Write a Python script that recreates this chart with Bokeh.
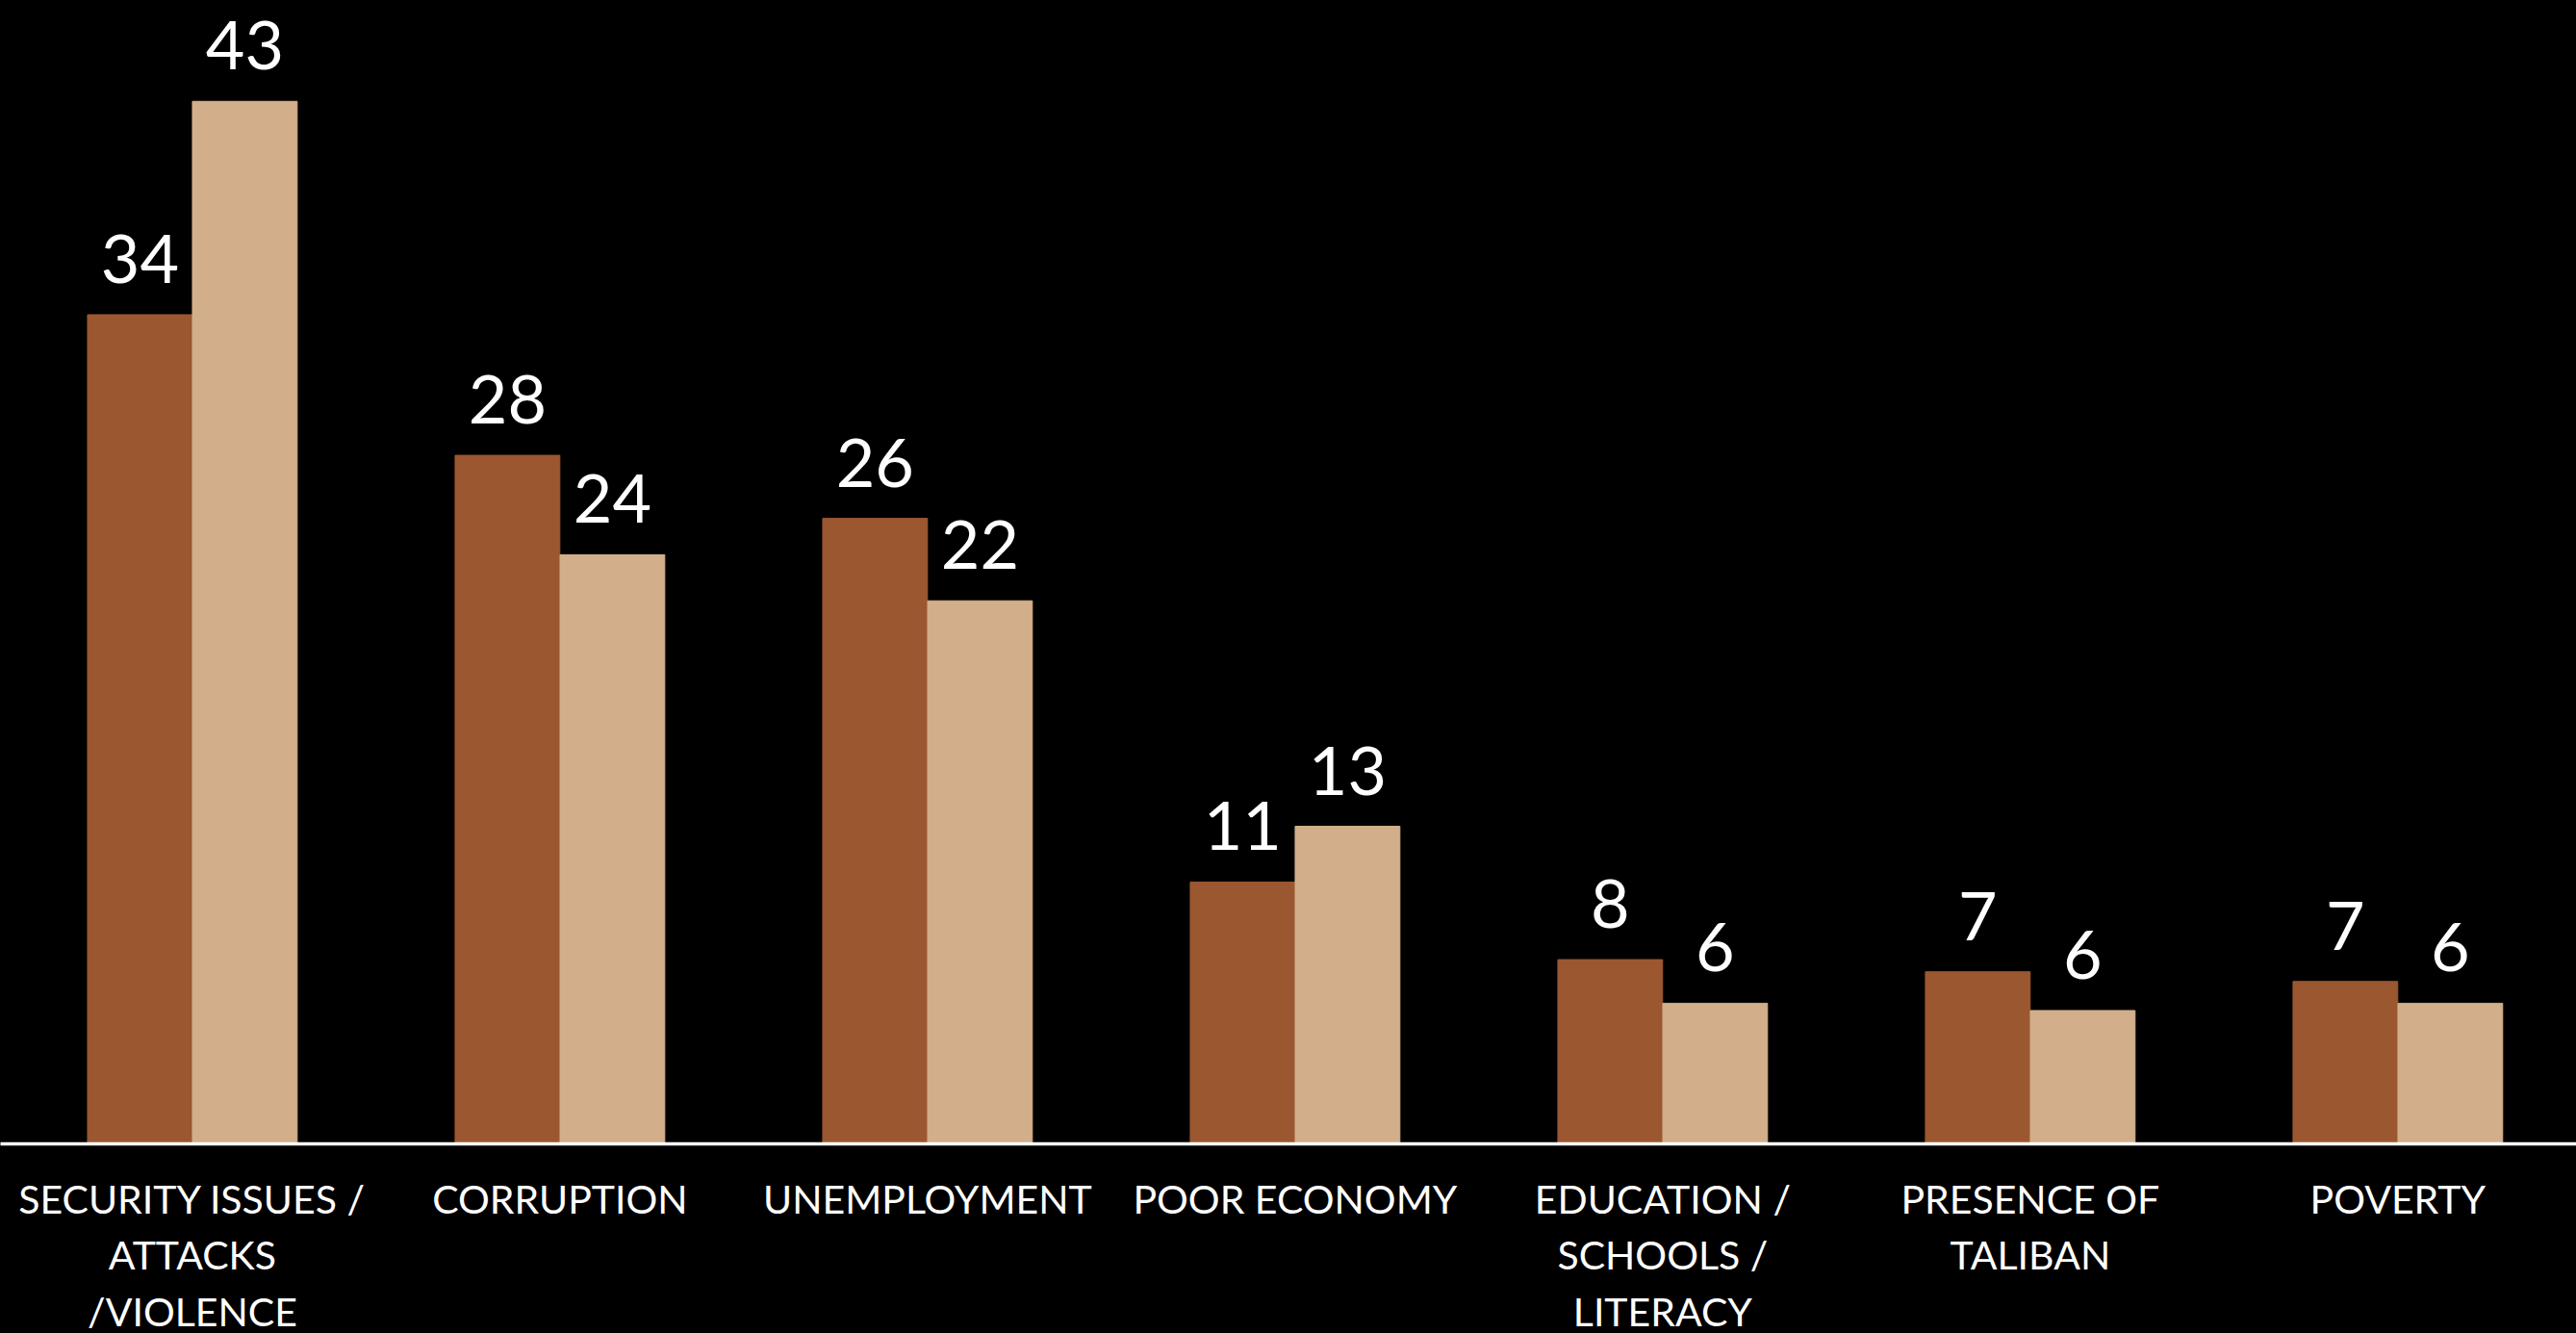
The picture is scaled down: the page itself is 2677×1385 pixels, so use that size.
from bokeh.plotting import figure
from bokeh.models import ColumnDataSource, Range1d, FixedTicker, LabelSet
from bokeh.transform import dodge
from bokeh.core.properties import value
from bokeh.embed import file_html
from bokeh.resources import INLINE

# ---- data ----
categories = ["SECURITY ISSUES /\nATTACKS\n/VIOLENCE", "CORRUPTION", "UNEMPLOYMENT",
              "POOR ECONOMY", "EDUCATION /\nSCHOOLS /\nLITERACY", "PRESENCE OF\nTALIBAN", "POVERTY"]
series_a = [34.2, 28.4, 25.8, 10.8, 7.6, 7.1, 6.7]
series_b = [43.0, 24.3, 22.4, 13.1, 5.8, 5.5, 5.8]
labels_a = ["34", "28", "26", "11", "8", "7", "7"]
labels_b = ["43", "24", "22", "13", "6", "6", "6"]

idx = list(range(len(categories)))
src = ColumnDataSource(dict(idx=idx, a=series_a, b=series_b, la=labels_a, lb=labels_b))

DARK = "#9B5730"
LIGHT = "#D2AE8A"
FONT = "Lato"

p = figure(frame_width=2677, frame_height=1188, output_backend="svg", toolbar_location=None,
           x_range=Range1d(-0.522, 6.486), y_range=Range1d(0, 47.16),
           background_fill_color="black", border_fill_color="black",
           outline_line_color=None, min_border=0)

bw = 0.285
off = 0.1427
p.vbar(x=dodge("idx", -off, range=p.x_range), top="a", width=bw, source=src,
       fill_color=DARK, line_color=DARK)
p.vbar(x=dodge("idx", off, range=p.x_range), top="b", width=bw, source=src,
       fill_color=LIGHT, line_color=LIGHT)

for col, lab, o in (("a", "la", -off), ("b", "lb", off)):
    ls = LabelSet(x=dodge("idx", o, range=p.x_range), y=col, text=lab,
                  source=src, text_align="center", text_baseline="alphabetic",
                  y_offset=33, text_color="white", text_font=value(FONT),
                  text_font_size="70px")
    p.add_layout(ls)

p.xgrid.visible = False
p.ygrid.visible = False
p.yaxis.visible = False

ax = p.xaxis[0]
ax.ticker = FixedTicker(ticks=idx)
ax.major_label_overrides = {i: c for i, c in zip(idx, categories)}
ax.axis_line_color = "white"
ax.axis_line_width = 3.5
ax.major_tick_line_color = None
ax.minor_tick_line_color = None
ax.major_tick_out = 0
ax.major_tick_in = 0
ax.major_label_standoff = 32
ax.major_label_text_color = "white"
ax.major_label_text_font = FONT
ax.major_label_text_font_size = "41px"
ax.major_label_text_line_height = 1.2

html = file_html(p, INLINE)
html = html.replace("<head>", "<head><style>html,body{background:#000;}</style>", 1)
open("out.html", "w").write(html)
